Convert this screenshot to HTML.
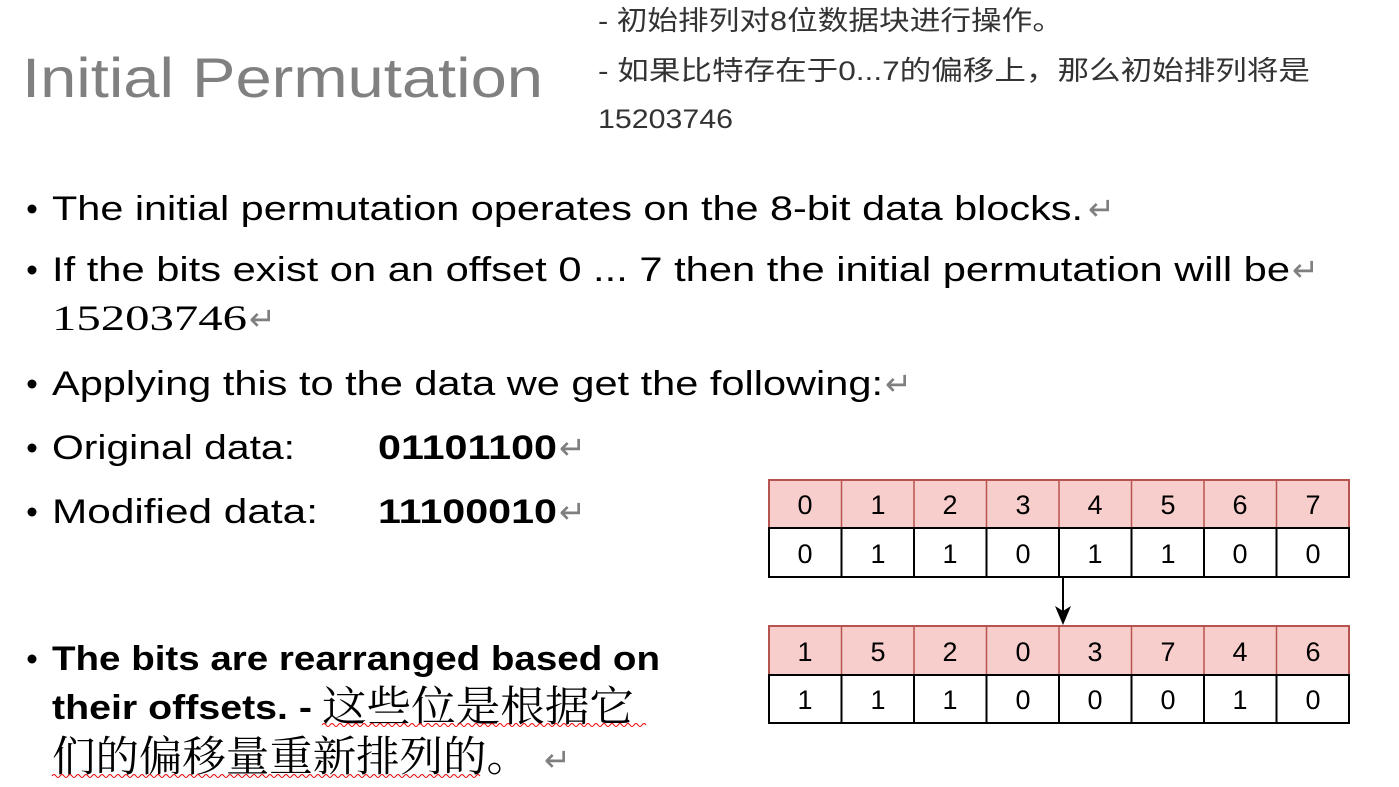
<!DOCTYPE html>
<html><head><meta charset="utf-8"><style>
html,body{margin:0;padding:0;background:#fff;}
svg{display:block}
.t{font-family:"Liberation Sans","Noto Sans CJK SC",sans-serif;font-size:34px;fill:#000}
.b{font-weight:bold}
.r{fill:#7f7f7f;font-family:"DejaVu Sans",sans-serif;font-size:32px}
.c{font-family:"Liberation Sans","Noto Sans CJK SC",sans-serif;font-size:27px;fill:#333}
.cs{font-family:"Liberation Serif","Noto Serif CJK SC",serif;font-size:42px;fill:#000}
.cell{font-family:"Liberation Sans",sans-serif;font-size:27px;fill:#000;text-anchor:middle}
</style></head><body>
<svg width="1399" height="787" xmlns="http://www.w3.org/2000/svg">
<text x="22" y="97" textLength="521" lengthAdjust="spacingAndGlyphs" style="font-family:'Liberation Sans',sans-serif;font-size:56px;fill:#808080">Initial Permutation</text>
<text class="c" x="598" y="30" textLength="465" lengthAdjust="spacingAndGlyphs">- 初始排列对8位数据块进行操作。</text>
<text class="c" x="598" y="80" textLength="712" lengthAdjust="spacingAndGlyphs">- 如果比特存在于0...7的偏移上，那么初始排列将是</text>
<text class="c" x="598" y="128" textLength="135" lengthAdjust="spacingAndGlyphs">15203746</text>

<g fill="#000">
<circle cx="32" cy="209" r="4.5"/><circle cx="32" cy="270" r="4.5"/><circle cx="32" cy="384" r="4.5"/>
<circle cx="32" cy="448" r="4.5"/><circle cx="32" cy="512" r="4.5"/><circle cx="32" cy="659" r="4.5"/>
</g>
<text class="t" x="52" y="220" textLength="1031" lengthAdjust="spacingAndGlyphs">The initial permutation operates on the 8-bit data blocks.</text><text class="r" x="1088" y="220">↵</text>
<text class="t" x="52" y="281" textLength="1238" lengthAdjust="spacingAndGlyphs">If the bits exist on an offset 0 ... 7 then the initial permutation will be</text><text class="r" x="1292" y="281">↵</text>
<text class="t" x="52" y="330" textLength="195" lengthAdjust="spacingAndGlyphs" style="font-family:'Liberation Serif',serif;font-size:36px">15203746</text><text class="r" x="249" y="330">↵</text>
<text class="t" x="52" y="395" textLength="831" lengthAdjust="spacingAndGlyphs">Applying this to the data we get the following:</text><text class="r" x="885" y="395">↵</text>
<text class="t" x="52" y="459" textLength="243" lengthAdjust="spacingAndGlyphs">Original data:</text>
<text class="t b" x="378" y="459" textLength="179" lengthAdjust="spacingAndGlyphs">01101100</text><text class="r" x="559" y="459">↵</text>
<text class="t" x="52" y="523" textLength="266" lengthAdjust="spacingAndGlyphs">Modified data:</text>
<text class="t b" x="378" y="523" textLength="179" lengthAdjust="spacingAndGlyphs">11100010</text><text class="r" x="559" y="523">↵</text>
<text class="t b" x="52" y="670" textLength="608" lengthAdjust="spacingAndGlyphs">The bits are rearranged based on</text>
<text class="t b" x="52" y="719" textLength="260" lengthAdjust="spacingAndGlyphs">their offsets. -</text>
<text class="cs" x="322" y="721" textLength="312" lengthAdjust="spacingAndGlyphs">这些位是根据它</text>
<text class="cs" x="52" y="771" textLength="478" lengthAdjust="spacingAndGlyphs">们的偏移量重新排列的。</text><text class="r" x="544" y="771">↵</text>
<path d="M322 725 q2 -3 4 0 t4 0 t4 0 t4 0 t4 0 t4 0 t4 0 t4 0 t4 0 t4 0 t4 0 t4 0 t4 0 t4 0 t4 0 t4 0 t4 0 t4 0 t4 0 t4 0 t4 0 t4 0 t4 0 t4 0 t4 0 t4 0 t4 0 t4 0 t4 0 t4 0 t4 0 t4 0 t4 0 t4 0 t4 0 t4 0 t4 0 t4 0 t4 0 t4 0 t4 0 t4 0 t4 0 t4 0 t4 0 t4 0 t4 0 t4 0 t4 0 t4 0 t4 0 t4 0 t4 0 t4 0 t4 0 t4 0 t4 0 t4 0 t4 0 t4 0 t4 0 t4 0 t4 0 t4 0 t4 0 t4 0 t4 0 t4 0 t4 0 t4 0 t4 0 t4 0 t4 0 t4 0 t4 0 t4 0 t4 0 t4 0 t4 0 t4 0 t4 0" fill="none" stroke="#e00" stroke-width="1"/>
<path d="M52 776 q2 -3 4 0 t4 0 t4 0 t4 0 t4 0 t4 0 t4 0 t4 0 t4 0 t4 0 t4 0 t4 0 t4 0 t4 0 t4 0 t4 0 t4 0 t4 0 t4 0 t4 0 t4 0 t4 0 t4 0 t4 0 t4 0 t4 0 t4 0 t4 0 t4 0 t4 0 t4 0 t4 0 t4 0 t4 0 t4 0 t4 0 t4 0 t4 0 t4 0 t4 0 t4 0 t4 0 t4 0 t4 0 t4 0 t4 0 t4 0 t4 0 t4 0 t4 0 t4 0 t4 0 t4 0 t4 0 t4 0 t4 0 t4 0 t4 0 t4 0 t4 0 t4 0 t4 0 t4 0 t4 0 t4 0 t4 0 t4 0 t4 0 t4 0 t4 0 t4 0 t4 0 t4 0 t4 0 t4 0 t4 0 t4 0 t4 0 t4 0 t4 0 t4 0 t4 0 t4 0 t4 0 t4 0 t4 0 t4 0 t4 0 t4 0 t4 0 t4 0 t4 0 t4 0 t4 0 t4 0 t4 0 t4 0 t4 0 t4 0 t4 0 t4 0 t4 0 t4 0 t4 0 t4 0 t4 0 t4 0" fill="none" stroke="#e00" stroke-width="1"/>

<g stroke="#b85450" stroke-width="2" fill="#f8cecc">
<rect x="769" y="480" width="580" height="48"/>
<rect x="769" y="626" width="580" height="49"/>
</g>
<g stroke="#000" stroke-width="2" fill="#fff">
<rect x="769" y="528" width="580" height="49"/>
<rect x="769" y="675" width="580" height="48"/>
</g>
<g stroke="#b85450" stroke-width="1.5">
<path d="M841.5 480v48M914 480v48M986.5 480v48M1059 480v48M1131.5 480v48M1204 480v48M1276.5 480v48"/>
<path d="M841.5 626v49M914 626v49M986.5 626v49M1059 626v49M1131.5 626v49M1204 626v49M1276.5 626v49"/>
</g>
<g stroke="#000" stroke-width="2">
<path d="M841.5 528v49M914 528v49M986.5 528v49M1059 528v49M1131.5 528v49M1204 528v49M1276.5 528v49"/>
<path d="M841.5 675v48M914 675v48M986.5 675v48M1059 675v48M1131.5 675v48M1204 675v48M1276.5 675v48"/>
<path d="M769 528h580M769 675h580"/>
</g>
<path d="M1063 577v34" stroke="#000" stroke-width="2"/>
<path d="M1055 606 L1063 625 L1071 606 L1063 611 Z" fill="#000"/>
<g>
<text x="805" y="514" class="cell">0</text><text x="878" y="514" class="cell">1</text><text x="950" y="514" class="cell">2</text><text x="1023" y="514" class="cell">3</text><text x="1095" y="514" class="cell">4</text><text x="1168" y="514" class="cell">5</text><text x="1240" y="514" class="cell">6</text><text x="1313" y="514" class="cell">7</text>
<text x="805" y="563" class="cell">0</text><text x="878" y="563" class="cell">1</text><text x="950" y="563" class="cell">1</text><text x="1023" y="563" class="cell">0</text><text x="1095" y="563" class="cell">1</text><text x="1168" y="563" class="cell">1</text><text x="1240" y="563" class="cell">0</text><text x="1313" y="563" class="cell">0</text>
<text x="805" y="661" class="cell">1</text><text x="878" y="661" class="cell">5</text><text x="950" y="661" class="cell">2</text><text x="1023" y="661" class="cell">0</text><text x="1095" y="661" class="cell">3</text><text x="1168" y="661" class="cell">7</text><text x="1240" y="661" class="cell">4</text><text x="1313" y="661" class="cell">6</text>
<text x="805" y="709" class="cell">1</text><text x="878" y="709" class="cell">1</text><text x="950" y="709" class="cell">1</text><text x="1023" y="709" class="cell">0</text><text x="1095" y="709" class="cell">0</text><text x="1168" y="709" class="cell">0</text><text x="1240" y="709" class="cell">1</text><text x="1313" y="709" class="cell">0</text>
</g>
</svg>
</body></html>
